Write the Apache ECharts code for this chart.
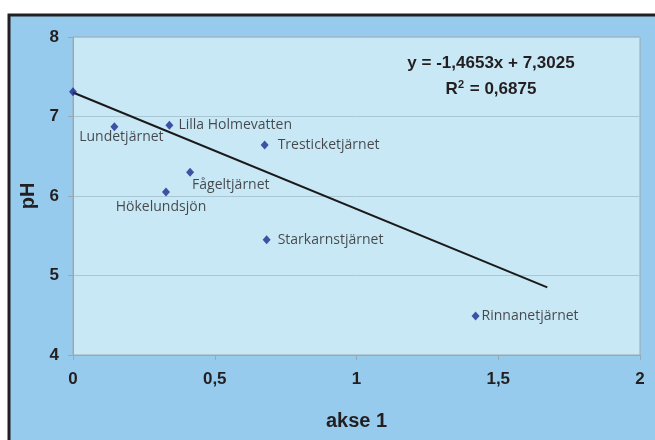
<!DOCTYPE html>
<html><head><meta charset="utf-8">
<script src="https://cdn.jsdelivr.net/npm/echarts@6/dist/echarts.min.js"></script>
<style>html,body{margin:0;padding:0;background:#fff}#c{width:655px;height:440px}</style>
</head><body><div id="c"></div>
<script>
const names = ['', 'Lundetjärnet', 'Lilla Holmevatten', 'Tresticketjärnet', 'Fågeltjärnet', 'Hökelundsjön', 'Starkarnstjärnet', 'Rinnanetjärnet'];
const xVals = [0, 0.146, 0.34, 0.676, 0.413, 0.328, 0.683, 1.42];
const yVals = [7.31, 6.87, 6.89, 6.64, 6.30, 6.05, 5.45, 4.49];
const trendX = [0, 1.673];
const trendY = [7.3025, 4.851];
const xTicks = ['0', '0,5', '1', '1,5', '2'];
const equation = 'y = -1,4653x + 7,3025';
const rsq = '0,6875';

const labelCfg = {
  'Lundetjärnet': {position: 'bottom', offset: [7, -1], distance: 0},
  'Lilla Holmevatten': {position: 'right', distance: 5},
  'Tresticketjärnet': {position: 'right', distance: 9},
  'Fågeltjärnet': {position: 'bottom', align: 'left', offset: [2, -1], distance: 2},
  'Hökelundsjön': {position: 'bottom', offset: [-5, 1], distance: 2},
  'Starkarnstjärnet': {position: 'right', distance: 7},
  'Rinnanetjärnet': {position: 'right', distance: 2}
};

const pts = names.map((n, i) => {
  const d = {value: [xVals[i], yVals[i]], name: n};
  if (n) {
    d.label = Object.assign({show: true, formatter: n}, labelCfg[n]);
  } else {
    d.label = {show: false};
  }
  return d;
});

const chart = echarts.init(document.getElementById('c'));
chart.setOption({
  animation: false,
  backgroundColor: '#fff',
  graphic: [
    {type: 'rect', z: -10, shape: {x: 9, y: 15, width: 660, height: 440},
     style: {fill: '#97cbed', stroke: '#231f20', lineWidth: 3}},
    {type: 'text', z: 10, x: 491, y: 63,
     style: {text: equation, textAlign: 'center', textVerticalAlign: 'middle', font: 'bold 17px "Liberation Sans", Arial', fill: '#231f20'}},
    {type: 'text', z: 10, x: 491, y: 89,
     style: {text: 'R{sup|2} = ' + rsq, textAlign: 'center', textVerticalAlign: 'middle', font: 'bold 17px "Liberation Sans", Arial', fill: '#231f20',
       rich: {sup: {fontSize: 11, fontWeight: 'bold', fontFamily: 'Liberation Sans', verticalAlign: 'top', padding: [0,1,9,0], fill: '#231f20'}}}}
  ],
  grid: {left: 73, top: 37, right: 15, bottom: 85, show: true, backgroundColor: '#c9e8f6', borderColor: '#9aa8b0', borderWidth: 1},
  xAxis: {
    type: 'value', min: 0, max: 2, interval: 0.5,
    name: 'akse 1', nameLocation: 'middle', nameGap: 56,
    nameTextStyle: {fontFamily: 'Liberation Sans', fontWeight: 'bold', fontSize: 20, color: '#231f20'},
    axisLine: {show: true, lineStyle: {color: '#9aa8b0'}},
    axisTick: {show: true, length: 5, inside: false, lineStyle: {color: '#9aa8b0'}},
    splitLine: {show: false},
    axisLabel: {margin: 16, fontFamily: 'Liberation Sans', fontWeight: 'bold', fontSize: 17, color: '#231f20',
      formatter: v => xTicks[Math.round(v / 0.5)]}
  },
  yAxis: {
    type: 'value', min: 4, max: 8, interval: 1,
    name: 'pH', nameLocation: 'middle', nameGap: 34,
    nameTextStyle: {fontFamily: 'Liberation Sans', fontWeight: 'bold', fontSize: 20, color: '#231f20'},
    axisLine: {show: true, lineStyle: {color: '#9aa8b0'}},
    axisTick: {show: true, length: 5, lineStyle: {color: '#9aa8b0'}},
    splitLine: {show: true, lineStyle: {color: '#a9c6d4', width: 1}},
    axisLabel: {margin: 14, fontFamily: 'Liberation Sans', fontWeight: 'bold', fontSize: 17, color: '#231f20'}
  },
  series: [
    {type: 'line', data: trendX.map((x, i) => [x, trendY[i]]), symbol: 'none',
     lineStyle: {color: '#1a1a1a', width: 2}, z: 2},
    {type: 'scatter', data: pts, symbol: 'diamond', symbolSize: [8, 9],
     itemStyle: {color: '#1c2a8e'}, z: 3,
     label: {fontFamily: 'Open Sans', fontSize: 14, color: '#231f20'}}
  ]
});
</script></body></html>
